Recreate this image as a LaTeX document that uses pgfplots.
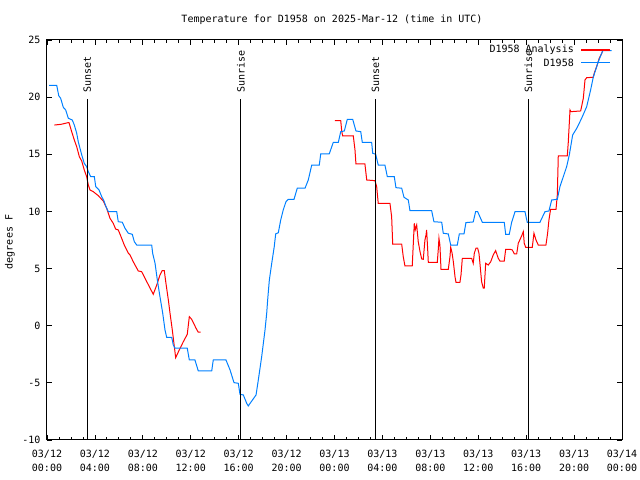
\documentclass[border=0pt]{standalone}
\usepackage{fontspec}
\setmainfont{DejaVu Sans Mono}
\usepackage{pgfplots}
\pgfplotsset{compat=1.18}
\definecolor{gpred}{RGB}{255,0,0}
\definecolor{gpblue}{RGB}{0,128,255}
\newcommand\gpfont{\fontsize{10bp}{13.5bp}\selectfont}
\begin{document}
\begin{tikzpicture}
\useasboundingbox (0,0) rectangle (640bp,480bp);
\node[font=\gpfont] at (332bp,460bp) {Temperature for D1958 on 2025-Mar-12 (time in UTC)};
\node[font=\gpfont, rotate=90] at (10bp,238bp) {degrees F};
\begin{axis}[
  at={(47bp,40bp)}, anchor=south west,
  scale only axis, width=575bp, height=400bp,
  xmin=0, xmax=48, ymin=-10, ymax=25,
  xtick={0,4,...,48}, minor x tick num=3,
  ytick={-10,-5,0,5,10,15,20,25},
  yticklabels={-10,-5,0,5,10,15,20,25},
  xticklabels={{03/12\\00:00},{03/12\\04:00},{03/12\\08:00},{03/12\\12:00},{03/12\\16:00},{03/12\\20:00},{03/13\\00:00},{03/13\\04:00},{03/13\\08:00},{03/13\\12:00},{03/13\\16:00},{03/13\\20:00},{03/14\\00:00}},
  xticklabel style={font=\gpfont, align=center, yshift=-7bp},
  yticklabel style={font=\gpfont, xshift=-3bp},
  tick align=inside, tick pos=both,
  major tick length=5bp, minor tick length=3bp,
  every tick/.style={black, line width=0.8bp},
  axis line style={line width=1bp},
  unbounded coords=jump,
]
\addplot[gpred, line width=1bp] coordinates {
(0.61,17.56)(1.17,17.62)(1.73,17.76)(1.84,17.76)(2.06,16.98)(2.28,16.25)(2.48,15.66)(2.70,14.79)(2.90,14.41)(3.11,13.63)(3.31,13.04)(3.45,12.31)(3.59,11.88)(3.86,11.73)(4.28,11.38)(4.70,10.91)(4.98,10.28)(5.26,9.40)(5.53,8.96)(5.73,8.46)(5.95,8.38)(6.18,7.79)(6.45,7.06)(6.79,6.34)(6.93,6.19)(7.20,5.60)(7.62,4.79)(7.90,4.73)(8.18,4.15)(8.54,3.42)(8.87,2.75)(9.16,3.56)(9.43,4.44)(9.62,4.82)(9.79,4.82)(9.93,3.71)(10.13,2.25)(10.27,1.09)(10.46,-0.37)(10.63,-1.83)(10.74,-2.80)(11.04,-2.12)(11.38,-1.40)(11.71,-0.75)(11.88,0.79)(12.08,0.56)(12.44,-0.22)(12.63,-0.57)(12.83,-0.57)
(18,nan)
(24.04,17.94)(24.52,17.94)(24.60,17.06)(24.68,16.60)(25.57,16.60)(25.71,15.38)(25.79,14.15)(26.54,14.15)(26.69,12.75)(27.38,12.69)(27.52,12.17)(27.65,10.71)(28.63,10.71)(28.77,9.54)(28.86,7.13)(29.61,7.13)(29.74,6.04)(29.88,5.23)(30.49,5.23)(30.58,7.21)(30.66,8.96)(30.74,8.38)(30.86,8.81)(30.99,7.35)(31.14,6.48)(31.28,5.84)(31.41,5.81)(31.55,7.50)(31.64,7.94)(31.69,8.38)(31.78,6.63)(31.83,5.55)(32.58,5.55)(32.66,6.63)(32.72,7.65)(32.80,7.06)(32.89,4.94)(33.50,4.94)(33.64,6.04)(33.70,6.86)(33.81,6.39)(33.92,5.60)(34.06,4.29)(34.14,3.80)(34.47,3.80)(34.56,4.44)(34.67,5.90)(35.45,5.90)(35.58,5.46)(35.67,6.34)(35.81,6.78)(35.95,6.78)(36.06,6.34)(36.14,5.46)(36.28,3.85)(36.42,3.28)(36.50,3.28)(36.62,5.46)(36.84,5.31)(37.04,5.60)(37.25,6.19)(37.45,6.57)(37.67,5.90)(37.81,5.66)(38.17,5.66)(38.29,6.69)(38.65,6.69)(38.84,6.63)(39.01,6.28)(39.21,6.28)(39.34,7.21)(39.62,7.85)(39.76,8.23)(39.84,7.21)(39.96,6.86)(40.51,6.86)(40.65,8.09)(40.82,7.50)(41.01,7.06)(41.65,7.06)(41.79,8.09)(41.90,9.25)(42.04,10.19)(42.49,10.19)(42.60,11.44)(42.68,14.85)(43.43,14.85)(43.51,15.96)(43.66,18.88)(43.74,18.73)(44.55,18.79)(44.77,19.90)(44.91,21.50)(45.05,21.70)(45.60,21.74)(45.68,22.09)(45.88,22.66)(46.10,23.40)(46.31,23.84)(46.41,24.13)
};
\addplot[gpblue, line width=1bp] coordinates {
(0.17,21.04)(0.81,21.04)(0.98,20.13)(1.14,19.90)(1.36,19.11)(1.56,18.88)(1.78,18.15)(2.11,18.00)(2.28,17.56)(2.48,16.84)(2.61,16.10)(2.90,14.94)(3.11,14.21)(3.31,13.92)(3.45,13.48)(3.65,13.04)(3.95,13.04)(4.07,12.17)(4.34,11.88)(4.57,11.29)(4.76,10.91)(4.92,10.42)(5.12,9.98)(5.82,9.98)(5.95,9.10)(6.29,9.05)(6.51,8.53)(6.79,8.09)(7.12,8.00)(7.29,7.35)(7.49,7.06)(8.74,7.06)(8.82,6.34)(9.02,5.46)(9.21,4.00)(9.43,2.54)(9.66,1.09)(9.85,-0.37)(9.99,-1.01)(10.41,-1.01)(10.54,-1.68)(10.68,-1.97)(11.71,-1.97)(11.88,-3.00)(12.35,-3.00)(12.63,-3.96)(13.75,-3.96)(13.88,-3.00)(14.94,-3.00)(15.28,-3.87)(15.61,-4.98)(15.97,-5.04)(16.11,-6.00)(16.39,-6.06)(16.67,-6.79)(16.80,-7.02)(17.45,-6.06)(17.64,-4.75)(17.92,-2.71)(18.20,-0.37)(18.34,1.09)(18.42,2.25)(18.56,4.00)(18.76,5.46)(18.97,6.92)(19.09,8.03)(19.31,8.14)(19.51,9.25)(19.72,10.13)(19.95,10.85)(20.14,11.06)(20.62,11.06)(20.89,12.03)(21.54,12.03)(21.81,12.75)(22.10,14.06)(22.73,14.06)(22.85,15.03)(23.56,15.03)(23.90,16.05)(24.32,16.05)(24.52,16.98)(24.82,17.04)(25.07,18.06)(25.52,18.06)(25.79,17.04)(26.19,16.98)(26.32,16.05)(27.10,16.05)(27.19,15.09)(27.44,15.00)(27.65,14.06)(28.21,14.06)(28.41,13.04)(28.99,13.04)(29.13,12.08)(29.61,12.03)(29.80,11.24)(30.16,11.00)(30.30,10.07)(32.11,10.07)(32.30,9.10)(32.95,9.05)(33.08,8.09)(33.50,8.03)(33.70,7.06)(34.25,7.06)(34.42,8.03)(34.81,8.03)(34.97,9.02)(35.58,9.08)(35.78,9.98)(35.95,9.98)(36.34,9.05)(38.17,9.05)(38.29,8.00)(38.59,8.00)(38.79,9.05)(39.07,9.98)(39.90,9.98)(40.09,9.05)(41.15,9.05)(41.57,9.98)(41.90,10.04)(42.13,11.00)(42.60,11.06)(42.82,12.17)(43.10,13.04)(43.38,13.92)(43.60,14.94)(43.88,16.69)(44.22,17.27)(44.63,18.15)(45.05,19.16)(45.38,20.63)(45.60,21.74)(46.02,23.10)(46.39,24.06)(47.14,24.06)
};
% sunrise / sunset markers
\addplot[black, line width=1bp] coordinates {(3.36,-10) (3.36,19.84)};
\addplot[black, line width=1bp] coordinates {(16.19,-10) (16.19,19.84)};
\addplot[black, line width=1bp] coordinates {(27.42,-10) (27.42,19.84)};
\addplot[black, line width=1bp] coordinates {(40.18,-10) (40.18,19.84)};
\node[font=\gpfont, rotate=90, anchor=west, inner sep=0pt] at (axis cs:3.36,20.4) {Sunset};
\node[font=\gpfont, rotate=90, anchor=west, inner sep=0pt] at (axis cs:16.19,20.4) {Sunrise};
\node[font=\gpfont, rotate=90, anchor=west, inner sep=0pt] at (axis cs:27.42,20.4) {Sunset};
\node[font=\gpfont, rotate=90, anchor=west, inner sep=0pt] at (axis cs:40.18,20.4) {Sunrise};
\end{axis}
% legend
\node[font=\gpfont, anchor=east, inner sep=0pt] at (574bp,430.5bp) {D1958 Analysis};
\fill[red] (581bp,429.3bp) rectangle (610bp,431.3bp);
\node[font=\gpfont, anchor=east, inner sep=0pt] at (574bp,417.5bp) {D1958};
\draw[draw=gpblue, line width=1.2bp] (581bp,417.5bp) -- (610bp,417.5bp);
\end{tikzpicture}
\end{document}
